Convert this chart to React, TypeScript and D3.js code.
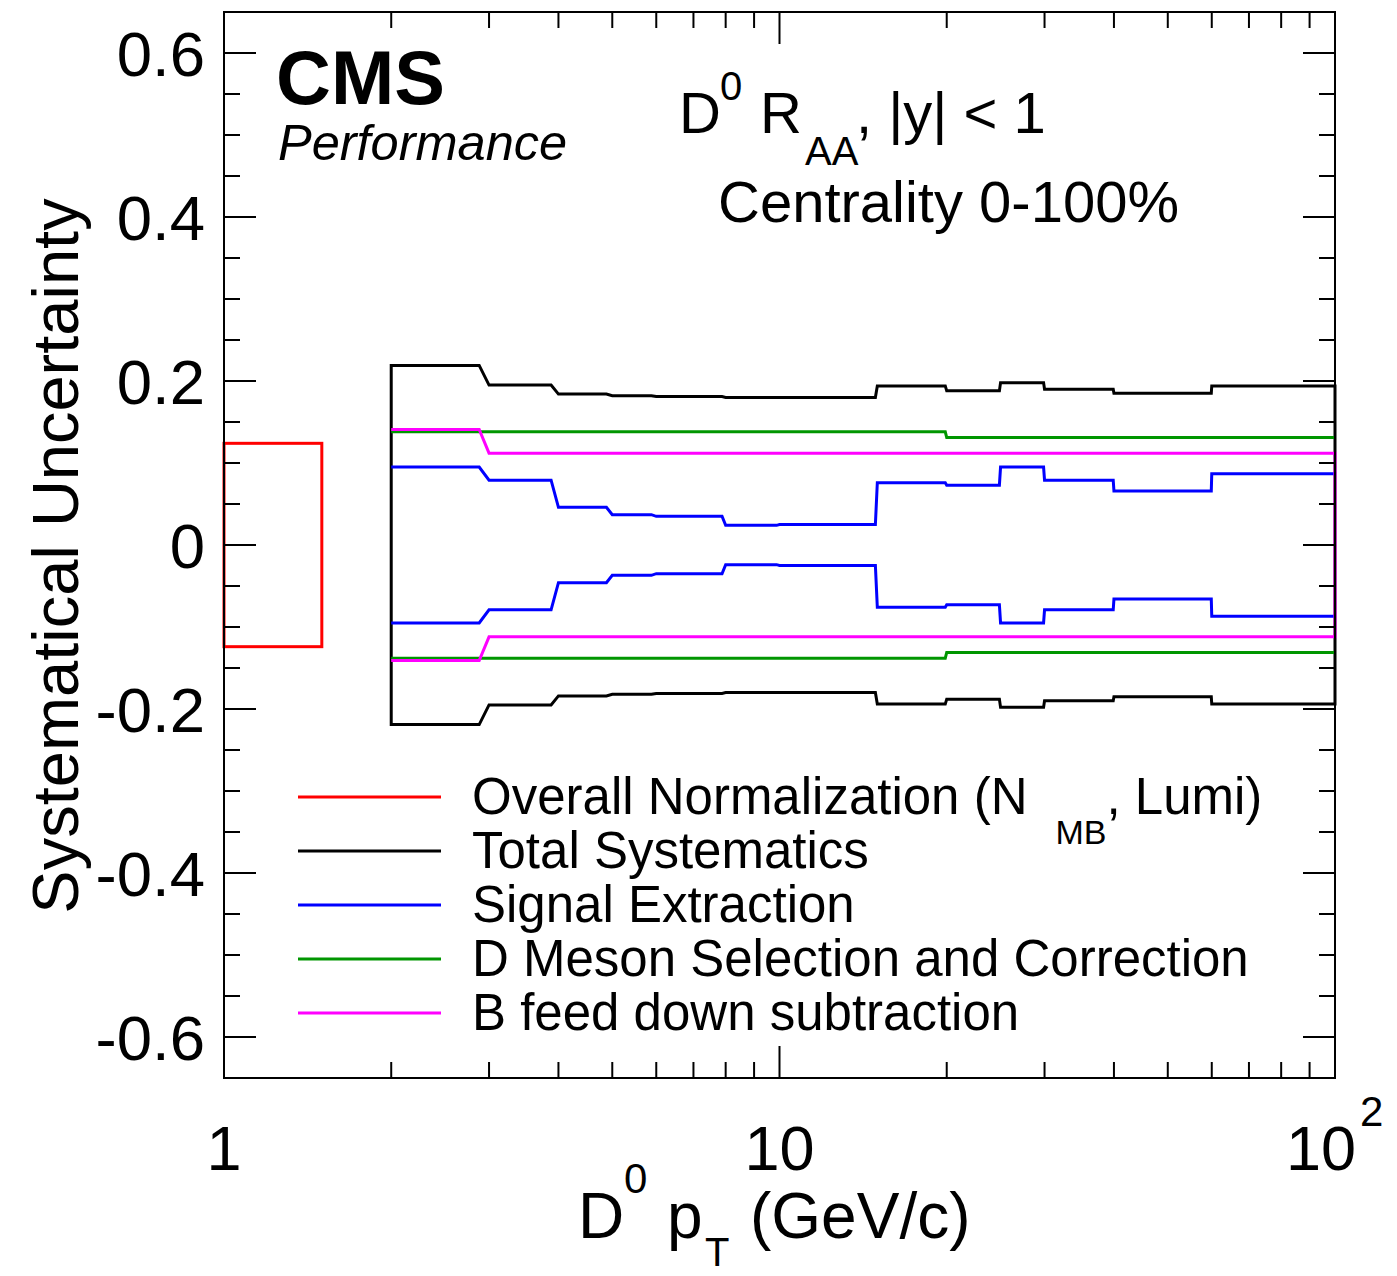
import React from "react";
import * as d3 from "d3";

// pT bin edges (GeV/c) and symmetric relative uncertainties per bin
const BIN_EDGES = [2, 3, 4, 5, 6, 8, 10, 15, 20, 25, 30, 40, 60, 100];
const TOTAL_SYST = [0.219, 0.195, 0.184, 0.182, 0.181, 0.18, 0.18, 0.194, 0.188, 0.198, 0.19, 0.185, 0.194];
const SIGNAL_EXTRACTION = [0.095, 0.079, 0.046, 0.037, 0.035, 0.024, 0.025, 0.076, 0.073, 0.095, 0.079, 0.066, 0.087];
const D_SELECTION = [0.138, 0.138, 0.138, 0.138, 0.138, 0.138, 0.138, 0.138, 0.131, 0.131, 0.131, 0.131, 0.131];
const B_FEED_DOWN = [0.141, 0.112, 0.112, 0.112, 0.112, 0.112, 0.112, 0.112, 0.112, 0.112, 0.112, 0.112, 0.112];

// Global normalization box (N_MB, Lumi)
const NORM_PT_RANGE = [1, 1.5];
const NORM_UNC = 0.124;

const Y_MAJOR_TICKS = [-0.6, -0.4, -0.2, 0, 0.2, 0.4, 0.6];
const Y_TICK_LABELS = ["-0.6", "-0.4", "-0.2", "0", "0.2", "0.4", "0.6"];
const X_MINOR_TICKS = [2, 3, 4, 5, 6, 7, 8, 9, 20, 30, 40, 50, 60, 70, 80, 90];
const X_MAJOR_TICKS = [10];

const LEGEND_LABELS = [
  "Overall Normalization (N",
  "Total Systematics",
  "Signal Extraction",
  "D Meson Selection and Correction",
  "B feed down subtraction",
];
const COLORS = {
  norm: "#ff0000",
  total: "#000000",
  signal: "#0000ff",
  selection: "#009600",
  bfeed: "#ff00ff",
};
const LEGEND_COLORS = [COLORS.norm, COLORS.total, COLORS.signal, COLORS.selection, COLORS.bfeed];

const W = 1397;
const H = 1276;
const FRAME = { left: 224, right: 1335, top: 12, bottom: 1078 };
const FONT = "'Liberation Sans', Arial, Helvetica, sans-serif";
// the graphs were sampled in pT, so each step ramps over a small pT interval
const STEP_RAMP = 0.12;

const x = d3.scaleLog().domain([1, 100]).range([FRAME.left, FRAME.right]);
const y = d3.scaleLinear().domain([-0.65, 0.65]).range([FRAME.bottom, FRAME.top]);

function stepPoints(vals: number[], sign: number): [number, number][] {
  const pts: [number, number][] = [];
  vals.forEach((v, i) => {
    const lo = BIN_EDGES[i];
    const hi = BIN_EDGES[i + 1];
    const last = i === vals.length - 1;
    pts.push([x(lo), y(sign * v)]);
    pts.push([x(last ? hi : hi - STEP_RAMP), y(sign * v)]);
  });
  return pts;
}

const line = d3.line<[number, number]>();

export default function App() {
  const totalPath =
    line([...stepPoints(TOTAL_SYST, 1), ...stepPoints(TOTAL_SYST, -1).reverse()])! + "Z";
  const signalUp = line(stepPoints(SIGNAL_EXTRACTION, 1))!;
  const signalDn = line(stepPoints(SIGNAL_EXTRACTION, -1))!;
  const selUp = line(stepPoints(D_SELECTION, 1))!;
  const selDn = line(stepPoints(D_SELECTION, -1))!;
  const bPath = line([...stepPoints(B_FEED_DOWN, 1), ...stepPoints(B_FEED_DOWN, -1).reverse()])!;

  const yMinor = d3
    .range(-13, 14)
    .map((k) => k * 0.05)
    .filter((v) => !Y_MAJOR_TICKS.some((m) => Math.abs(m - v) < 1e-6));

  const legendY0 = 797;
  const legendDy = 54;

  return (
    <svg
      width={W}
      height={H}
      style={{ position: "absolute", left: 0, top: 0, background: "#fff" }}
      fontFamily={FONT}
    >
      <rect width={W} height={H} fill="#fff" />

      {/* data */}
      <g fill="none" strokeWidth={3} strokeLinejoin="miter">
        <rect
          x={x(NORM_PT_RANGE[0])}
          y={y(NORM_UNC)}
          width={x(NORM_PT_RANGE[1]) - x(NORM_PT_RANGE[0])}
          height={y(-NORM_UNC) - y(NORM_UNC)}
          stroke={COLORS.norm}
        />
        <path d={totalPath} stroke={COLORS.total} />
        <path d={signalUp} stroke={COLORS.signal} />
        <path d={signalDn} stroke={COLORS.signal} />
        <path d={selUp} stroke={COLORS.selection} />
        <path d={selDn} stroke={COLORS.selection} />
        <path d={bPath} stroke={COLORS.bfeed} />
      </g>

      {/* frame */}
      <rect
        x={FRAME.left}
        y={FRAME.top}
        width={FRAME.right - FRAME.left}
        height={FRAME.bottom - FRAME.top}
        fill="none"
        stroke="#000"
        strokeWidth={2}
      />

      {/* ticks on all four sides */}
      <g stroke="#000" strokeWidth={2}>
        {Y_MAJOR_TICKS.map((v) => (
          <g key={"ym" + v}>
            <line x1={FRAME.left} x2={FRAME.left + 32} y1={y(v)} y2={y(v)} />
            <line x1={FRAME.right} x2={FRAME.right - 32} y1={y(v)} y2={y(v)} />
          </g>
        ))}
        {yMinor.map((v) => (
          <g key={"yn" + v}>
            <line x1={FRAME.left} x2={FRAME.left + 16} y1={y(v)} y2={y(v)} />
            <line x1={FRAME.right} x2={FRAME.right - 16} y1={y(v)} y2={y(v)} />
          </g>
        ))}
        {X_MINOR_TICKS.map((v) => (
          <g key={"xn" + v}>
            <line x1={x(v)} x2={x(v)} y1={FRAME.bottom} y2={FRAME.bottom - 16} />
            <line x1={x(v)} x2={x(v)} y1={FRAME.top} y2={FRAME.top + 16} />
          </g>
        ))}
        {X_MAJOR_TICKS.map((v) => (
          <g key={"xm" + v}>
            <line x1={x(v)} x2={x(v)} y1={FRAME.bottom} y2={FRAME.bottom - 32} />
            <line x1={x(v)} x2={x(v)} y1={FRAME.top} y2={FRAME.top + 32} />
          </g>
        ))}
      </g>

      {/* y tick labels */}
      <g fontSize={63.5} textAnchor="end">
        {Y_MAJOR_TICKS.map((v, i) => (
          <text key={"yl" + v} x={205} y={y(v)} dy="0.36em">
            {Y_TICK_LABELS[i]}
          </text>
        ))}
      </g>

      {/* x tick labels */}
      <g fontSize={63}>
        <text x={x(1)} y={1170} textAnchor="middle">1</text>
        <text x={x(10)} y={1170} textAnchor="middle">10</text>
        <text x={x(100) - 49} y={1170}>
          10
          <tspan fontSize={42} dx={4} dy={-44}>2</tspan>
        </text>
      </g>

      {/* axis titles */}
      <text transform="translate(78,556) rotate(-90)" fontSize={65} textAnchor="middle">
        Systematical Uncertainty
      </text>
      <g fontSize={64}>
        <text x={578} y={1238}>D</text>
        <text x={624} y={1193} fontSize={42}>0</text>
        <text x={667} y={1238}>p</text>
        <text x={705} y={1266} fontSize={40}>T</text>
        <text x={750} y={1238}>(GeV/c)</text>
      </g>

      {/* CMS label */}
      <text x={276} y={104} fontSize={76} fontWeight="bold">CMS</text>
      <text x={278} y={160} fontSize={50.5} fontStyle="italic">Performance</text>

      {/* observable */}
      <g fontSize={58}>
        <text x={679} y={133}>D</text>
        <text x={720} y={100} fontSize={40}>0</text>
        <text x={760} y={133}>R</text>
        <text x={805} y={165} fontSize={40}>AA</text>
        <text x={856} y={133}>, |y| &lt; 1</text>
        <text x={718} y={222}>Centrality 0-100%</text>
      </g>

      {/* legend */}
      <g fontSize={51}>
        {LEGEND_LABELS.map((lab, i) => {
          const ly = legendY0 + i * legendDy;
          return (
            <g key={lab}>
              <line x1={298} x2={441} y1={ly} y2={ly} stroke={LEGEND_COLORS[i]} strokeWidth={3} />
              <text x={472} y={ly + 17}>
                {lab}
                {i === 0 ? (
                  <>
                    <tspan fontSize={34} dx={28} dy={30}>MB</tspan>
                    <tspan dy={-30}>, Lumi)</tspan>
                  </>
                ) : null}
              </text>
            </g>
          );
        })}
      </g>
    </svg>
  );
}
